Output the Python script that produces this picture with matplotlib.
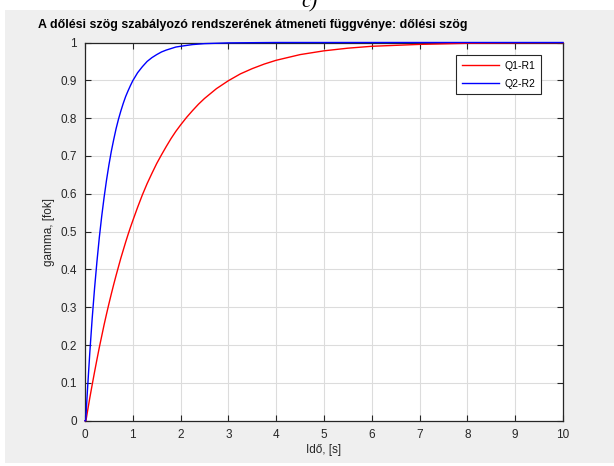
import matplotlib.pyplot as plt
from matplotlib.patches import Rectangle

# step response samples, time [s] -> gamma [fok]
t_q1 = [0.0, 0.02, 0.05, 0.1, 0.15, 0.2, 0.25, 0.3, 0.35, 0.4, 0.45, 0.5, 0.55, 0.6,
        0.65, 0.7, 0.75, 0.8, 0.85, 0.9, 0.95, 1.0, 1.1, 1.2, 1.3, 1.4, 1.5, 1.6, 1.7,
        1.8, 1.9, 2.0, 2.125, 2.25, 2.375, 2.5, 2.625, 2.75, 3.0, 3.25, 3.5, 3.75, 4.0,
        4.5, 5.0, 5.5, 6.0, 7.0, 8.0, 9.0, 10.0]
g_q1 = [0.0, 0.0, 0.023, 0.060, 0.095, 0.129, 0.162, 0.194, 0.224, 0.254, 0.282, 0.309,
        0.335, 0.360, 0.384, 0.407, 0.430, 0.451, 0.472, 0.492, 0.511, 0.529, 0.564,
        0.597, 0.627, 0.654, 0.680, 0.703, 0.725, 0.746, 0.765, 0.782, 0.802, 0.820,
        0.837, 0.852, 0.865, 0.878, 0.899, 0.917, 0.931, 0.943, 0.953, 0.968, 0.978,
        0.985, 0.990, 0.995, 0.998, 0.999, 0.9995]

t_q2 = [0.0, 0.015, 0.05, 0.1, 0.15, 0.2, 0.25, 0.3, 0.35, 0.4, 0.45, 0.5, 0.55, 0.6,
        0.65, 0.7, 0.75, 0.8, 0.85, 0.9, 0.95, 1.0, 1.1, 1.2, 1.3, 1.4, 1.5, 1.6, 1.7,
        1.8, 1.9, 2.0, 2.25, 2.5, 2.75, 3.0, 4.0, 10.0]
g_q2 = [0.0, 0.0, 0.078, 0.179, 0.270, 0.350, 0.421, 0.485, 0.541, 0.591, 0.636, 0.676,
        0.712, 0.743, 0.772, 0.797, 0.819, 0.839, 0.857, 0.872, 0.886, 0.899, 0.920,
        0.936, 0.950, 0.960, 0.968, 0.975, 0.980, 0.984, 0.988, 0.990, 0.9945, 0.997,
        0.998, 0.999, 1.0, 1.0]

legend_labels = ['Q1-R1', 'Q2-R2']
x_ticks = list(range(0, 11))
y_ticks = [0, 0.1, 0.2, 0.3, 0.4, 0.5, 0.6, 0.7, 0.8, 0.9, 1]
y_ticklabels = ['0', '0.1', '0.2', '0.3', '0.4', '0.5', '0.6', '0.7', '0.8', '0.9', '1']

plt.rcParams['font.family'] = ['Liberation Sans', 'DejaVu Sans']
W, H = 614, 466
fig = plt.figure(figsize=(W / 100, H / 100), dpi=100)
fig.patch.set_facecolor('white')

# grey figure panel behind the axes
fig.patches.append(Rectangle((5 / W, 3 / H), 1 - 5 / W, (H - 13) / H,
                             transform=fig.transFigure, facecolor='#efefef',
                             edgecolor='none', zorder=-5))

# figure label, clipped by the top edge
fig.text(309 / W, 1 - 7 / H, 'c)', family='Liberation Serif', style='italic',
         fontsize=15, ha='center', va='baseline')

ax = fig.add_axes([85 / W, (H - 420.7) / H, 478 / W, 378.2 / H])
ax.set_zorder(2)
ax.set_facecolor('white')

# lines sit on top of the box so the settled part covers the top edge
ax.plot(t_q1, g_q1, color='#ff0000', lw=1.0, label=legend_labels[0],
        clip_on=False, zorder=3)
ax.plot(t_q2, g_q2, color='#0000ff', lw=1.0, label=legend_labels[1],
        clip_on=False, zorder=3)

ax.set_xlim(0, 10)
ax.set_ylim(0, 1)
ax.set_xticks(x_ticks)
ax.set_yticks(y_ticks)
ax.set_yticklabels(y_ticklabels)
ax.grid(True, color='#dcdcdc', lw=0.8)
ax.set_axisbelow(True)

dark = '#262626'
for s in ax.spines.values():
    s.set_color(dark)
    s.set_linewidth(0.9)
ax.tick_params(direction='in', length=4, width=0.8, colors=dark, labelsize=8.5,
               top=True, right=True, pad=6)

ax.set_xlabel('Idő, [s]', fontsize=8.5, color=dark, labelpad=2)
ax.set_ylabel('gamma, [fok]', fontsize=8.5, color=dark, labelpad=4)

fig.text(38 / W, 1 - 28 / H,
         'A dőlési szög szabályozó rendszerének átmeneti függvénye: dőlési szög',
         fontsize=8.9, fontweight='bold', ha='left', va='baseline', color='black')

leg = ax.legend(loc='upper right', bbox_to_anchor=(0.954, 0.967), borderaxespad=0,
                fontsize=7.5, fancybox=False, framealpha=1, edgecolor=dark,
                handlelength=3.6, handletextpad=0.5, borderpad=0.55,
                labelspacing=0.75)
leg.get_frame().set_linewidth(0.8)

fig.savefig('out.png', dpi=100)
